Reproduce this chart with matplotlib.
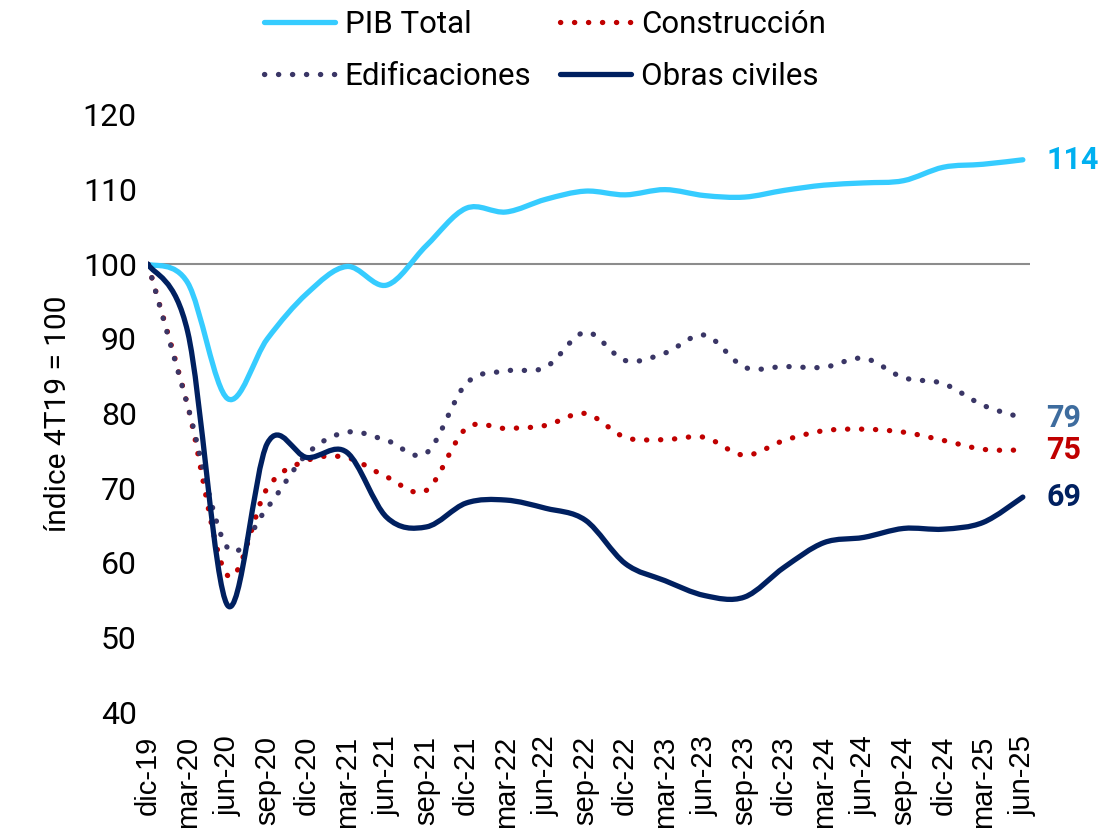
import matplotlib
matplotlib.use("Agg")
import matplotlib.pyplot as plt
from matplotlib.path import Path
from matplotlib.patches import PathPatch
from matplotlib.lines import Line2D

plt.rcParams['font.family'] = ['Roboto', 'DejaVu Sans']

# Trimestres, índice 4T19 = 100
quarters = ["dic-19", "mar-20", "jun-20", "sep-20", "dic-20", "mar-21", "jun-21",
            "sep-21", "dic-21", "mar-22", "jun-22", "sep-22", "dic-22", "mar-23",
            "jun-23", "sep-23", "dic-23", "mar-24", "jun-24", "sep-24", "dic-24",
            "mar-25", "jun-25"]

pib_total = [100, 97.5, 82.0, 90.0, 96.1, 99.7, 97.2, 102.5, 107.5, 107.0, 108.7,
             109.8, 109.3, 110.0, 109.2, 109.0, 109.9, 110.6, 110.9, 111.2, 113.0,
             113.4, 114.0]
construccion = [100, 81.0, 58.3, 70.0, 73.7, 74.1, 71.5, 69.7, 78.0, 78.0, 78.4,
                80.0, 76.8, 76.5, 76.8, 74.4, 76.4, 77.7, 77.9, 77.5, 76.4, 75.2, 75.1]
edificaciones = [100, 81.0, 62.0, 67.4, 74.6, 77.5, 76.4, 74.7, 84.0, 85.7, 86.2,
                 90.9, 87.1, 88.1, 90.5, 86.2, 86.3, 86.2, 87.4, 84.8, 84.0, 81.1, 79.4]
obras_civiles = [100, 90.9, 54.3, 76.0, 74.1, 74.8, 66.1, 64.8, 68.0, 68.4, 67.3,
                 65.7, 59.9, 57.6, 55.6, 55.4, 59.4, 62.7, 63.4, 64.6, 64.5, 65.4, 68.8]

end_labels = ["114", "75", "79", "69"]


def smooth_path(xs, ys):
    # curva tipo "línea suavizada" de Excel (Catmull-Rom como Bézier cúbica)
    pts = list(zip(xs, ys))
    n = len(pts)
    verts = [pts[0]]
    codes = [Path.MOVETO]
    for i in range(n - 1):
        p0 = pts[max(i - 1, 0)]
        p1 = pts[i]
        p2 = pts[i + 1]
        p3 = pts[min(i + 2, n - 1)]
        c1 = (p1[0] + (p2[0] - p0[0]) / 6, p1[1] + (p2[1] - p0[1]) / 6)
        c2 = (p2[0] - (p3[0] - p1[0]) / 6, p2[1] - (p3[1] - p1[1]) / 6)
        verts += [c1, c2, p2]
        codes += [Path.CURVE4] * 3
    return Path(verts, codes)


fig = plt.figure(figsize=(11.07, 8.33), dpi=100)
ax = fig.add_axes([148 / 1107, 1 - 712 / 833, (1030 - 148) / 1107, (712 - 115) / 833])

x = list(range(len(quarters)))
dots = (0, (0.05, 2.6))

series = [
    ("PIB Total", pib_total, "#36CCFF", "-", "#00B0F0"),
    ("Construcción", construccion, "#C00000", dots, "#C00000"),
    ("Edificaciones", edificaciones, "#3A3666", dots, "#3E6C9E"),
    ("Obras civiles", obras_civiles, "#002060", "-", "#002060"),
]

ax.axhline(100, color="#8C8C8C", lw=1.5, zorder=1)

handles = []
for (name, vals, color, ls, lab_color), lab in zip(series, end_labels):
    patch = PathPatch(smooth_path(x, vals), fill=False, edgecolor=color, lw=3.8,
                      linestyle=ls, capstyle="round", joinstyle="round", zorder=3)
    ax.add_patch(patch)
    handles.append(Line2D([], [], color=color, lw=3.8, linestyle=ls,
                          dash_capstyle="round", solid_capstyle="round"))
    ax.annotate(lab, (x[-1], vals[-1]), xytext=(17, 0), textcoords="offset points",
                ha="left", va="center", fontsize=22, fontweight="bold",
                color=lab_color, annotation_clip=False)

ax.set_xlim(0, 22.18)
ax.set_ylim(40, 120)
ax.set_yticks(range(40, 121, 10))
ax.set_xticks(x)
ax.set_xticklabels(quarters, rotation=90, fontsize=21,
                   family=['Liberation Sans', 'DejaVu Sans'])
ax.tick_params(axis="y", labelsize=23, length=0, pad=8)
ax.tick_params(axis="x", length=0, pad=17)
for s in ax.spines.values():
    s.set_visible(False)

ax.set_ylabel("índice 4T19 = 100", fontsize=21.5, labelpad=8)

order = [0, 2, 1, 3]
leg = fig.legend([handles[i] for i in order], [series[i][0] for i in order],
                 ncol=2, loc="upper center", bbox_to_anchor=(0.492, 1.022),
                 frameon=False, fontsize=22.5, handlelength=2.3, columnspacing=0.9,
                 handletextpad=0.3, labelspacing=0.75)

fig.savefig("out.png", dpi=100)
